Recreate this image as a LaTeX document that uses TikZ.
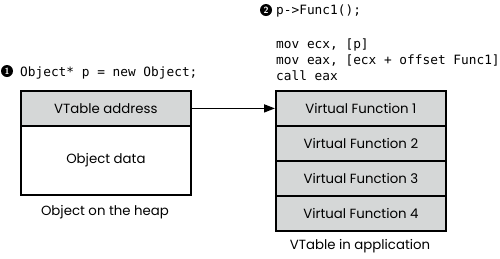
\documentclass[tikz,border=0pt]{standalone}
\usepackage{fontspec}
\setmainfont{Poppins}
\setmonofont{DejaVu Sans Mono}
\usetikzlibrary{arrows.meta}
\definecolor{cellgray}{HTML}{D5D7D7}
\tikzset{
  cell/.style={draw=black, line width=1.8pt, fill=cellgray, minimum width=170pt, inner sep=0pt, font=\fontsize{13.3}{15}\selectfont},
  code/.style={anchor=base west, inner sep=0pt, font=\ttfamily\fontsize{12.8}{14}\selectfont},
  caption/.style={inner sep=0pt, font=\fontsize{13.3}{15}\selectfont},
  bullet/.style={circle, fill=black, inner sep=0pt, minimum size=12pt, text=white, font=\sffamily\bfseries\fontsize{9}{9}\selectfont},
}
\begin{document}
\begin{tikzpicture}[x=1pt,y=-1pt]
\useasboundingbox (0,0) rectangle (500,258);
% left object
\node[cell, minimum height=35pt, anchor=north west] (vaddr) at (20,90) {VTable address};
\node[cell, fill=white, minimum height=69pt, anchor=north west] (odata) at (20,125) {Object data};
\node[caption] (lcap) at (105,212) {Object on the heap};
\node[bullet] (b1) at (7,71) {1};
\node[code] (c1) at (20,76) {Object* p = new Object;};
% right vtable
\node[cell, minimum height=35pt, anchor=north west] (f1) at (275,90) {Virtual Function 1};
\node[cell, minimum height=35pt, anchor=north west] (f2) at (275,125) {Virtual Function 2};
\node[cell, minimum height=35pt, anchor=north west] (f3) at (275,160) {Virtual Function 3};
\node[cell, minimum height=35pt, anchor=north west] (f4) at (275,195) {Virtual Function 4};
\node[caption] (rcap) at (360,246) {VTable in application};
\node[bullet] (b2) at (266,10) {2};
\node[code] (c2) at (276,14) {p->Func1();};
\node[code] (c3) at (276,48) {mov ecx, [p]};
\node[code] (c4) at (276,64) {mov eax, [ecx + offset Func1]};
\node[code] (c5) at (276,80) {call eax};
% arrow
\draw[line width=1.6pt, -{Triangle[length=11pt,width=8pt]}] (vaddr.east) -- (f1.west);
\end{tikzpicture}
\end{document}
